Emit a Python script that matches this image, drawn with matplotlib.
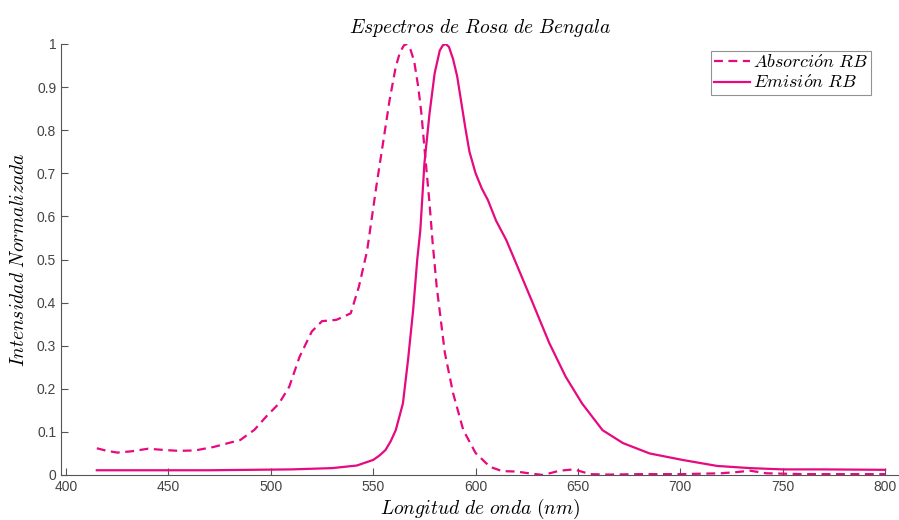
import matplotlib.pyplot as plt
from matplotlib.ticker import FormatStrFormatter

plt.rcParams['mathtext.fontset'] = 'cm'

# Absorption spectrum (normalised)
abs_nm = [415, 420, 425, 432, 440, 448, 455, 463, 472, 480, 485, 492, 498, 504,
          509, 514, 520, 525, 532, 539, 543, 547, 551.5, 555, 558, 561, 563,
          565, 566.5, 568, 570, 572, 573.5, 575, 577.5, 579, 581, 585, 589, 594,
          600, 607, 613, 620, 626, 633, 641, 648, 656, 665, 680, 700, 720, 728,
          734, 742, 760, 780, 800]
abs_val = [0.062, 0.056, 0.052, 0.055, 0.061, 0.058, 0.056, 0.057, 0.065, 0.075,
           0.081, 0.105, 0.137, 0.166, 0.205, 0.274, 0.333, 0.357, 0.36, 0.375,
           0.437, 0.52, 0.669, 0.777, 0.87, 0.947, 0.98, 0.997, 1.0, 0.99, 0.96,
           0.9, 0.84, 0.76, 0.63, 0.54, 0.437, 0.283, 0.19, 0.104, 0.051, 0.019,
           0.009, 0.008, 0.004, 0.0, 0.01, 0.013, 0.002, 0.001, 0.002, 0.002,
           0.004, 0.007, 0.01, 0.004, 0.002, 0.002, 0.002]

# Emission spectrum (normalised)
em_nm = [415, 430, 450, 470, 490, 510, 530, 542, 550, 553, 556, 558.5, 561,
         564.5, 567, 569.5, 571.5, 573, 575, 577.5, 580, 582.5, 584, 585.5, 587,
         589, 591, 593, 595, 597, 600, 603, 606, 610, 615, 619, 628, 636, 644,
         652, 662, 672, 685, 701, 718, 734, 750, 770, 800]
em_val = [0.011, 0.011, 0.011, 0.011, 0.012, 0.013, 0.016, 0.022, 0.035, 0.045,
          0.058, 0.078, 0.104, 0.166, 0.267, 0.383, 0.5, 0.568, 0.723, 0.839,
          0.932, 0.985, 0.997, 1.0, 0.993, 0.965, 0.925, 0.865, 0.805, 0.75,
          0.70, 0.665, 0.638, 0.59, 0.545, 0.5, 0.398, 0.306, 0.228, 0.166,
          0.104, 0.074, 0.05, 0.035, 0.021, 0.016, 0.013, 0.013, 0.012]

xticks = [400, 450, 500, 550, 600, 650, 700, 750, 800]
yticks = [0, 0.1, 0.2, 0.3, 0.4, 0.5, 0.6, 0.7, 0.8, 0.9, 1]

color = '#e6097f'
axis_gray = '#555555'

fig = plt.figure(figsize=(8.99, 5.20), dpi=100)
ax = fig.add_axes([61 / 899, 45 / 520, 838 / 899, 431 / 520])

ax.plot(abs_nm, abs_val, color=color, lw=1.6, ls='--', dashes=(4, 2.5),
        label=r'$Absorci\acute{o}n\ RB$')
ax.plot(em_nm, em_val, color=color, lw=1.6, label=r'$Emisi\acute{o}n\ RB$')

ax.set_xlim(397.5, 806.8)
ax.set_ylim(0, 1)
ax.set_xticks(xticks)
ax.set_yticks(yticks)
ax.yaxis.set_major_formatter(FormatStrFormatter('%g'))

for side in ['top', 'right']:
    ax.spines[side].set_visible(False)
for side in ['left', 'bottom']:
    ax.spines[side].set_color(axis_gray)
    ax.spines[side].set_linewidth(0.8)

ax.tick_params(direction='in', length=5, width=0.8, color=axis_gray,
               labelcolor='#444444', labelsize=10)
for lbl in ax.get_xticklabels() + ax.get_yticklabels():
    lbl.set_fontfamily('Liberation Sans')

ax.set_title(r'$Espectros\ de\ Rosa\ de\ Bengala$', fontsize=14, pad=8)
ax.set_xlabel(r'$Longitud\ de\ onda\ (nm)$', fontsize=14, labelpad=2)
ax.set_ylabel(r'$Intensidad\ Normalizada$', fontsize=14, labelpad=6)

leg = ax.legend(loc='upper right', bbox_to_anchor=(871 / 899, 1 - 51 / 520),
                bbox_transform=fig.transFigure, borderaxespad=0,
                fontsize=13, fancybox=False, handlelength=2.0,
                handletextpad=0.2, borderpad=0.15, labelspacing=0.15)
leg.get_frame().set_edgecolor('#777777')
leg.get_frame().set_linewidth(0.8)

fig.savefig('out.png', dpi=100)
